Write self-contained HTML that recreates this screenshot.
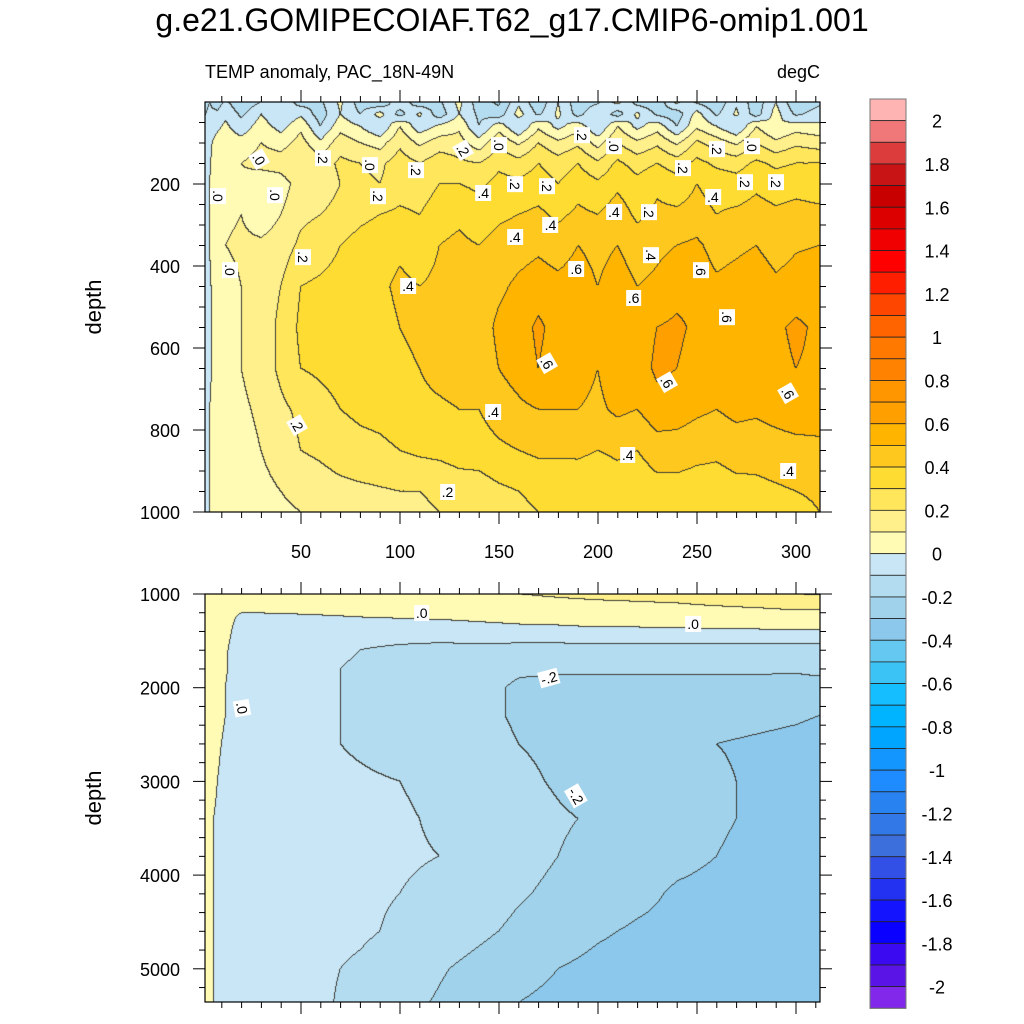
<!DOCTYPE html>
<html><head><meta charset="utf-8">
<style>
html,body{margin:0;padding:0;background:#fff;}
#root{position:relative;width:1024px;height:1024px;overflow:hidden;font-family:"Liberation Sans",Arial,sans-serif;color:#000;}
canvas{position:absolute;}
.t{position:absolute;white-space:nowrap;}
.lab{position:absolute;background:#fff;font-size:14px;line-height:14px;padding:1px 2px;transform:translate(-50%,-50%);}
</style></head>
<body>
<div id="root">
<div class="t" style="left:0;width:1024px;text-align:center;top:2px;font-size:32px;">g.e21.GOMIPECOIAF.T62_g17.CMIP6-omip1.001</div>
<div class="t" style="left:205px;top:62px;font-size:18px;">TEMP anomaly, PAC_18N-49N</div>
<div class="t" style="right:204px;top:62px;font-size:18px;">degC</div>
<canvas id="cTop" width="615" height="410" style="left:205px;top:102px;"></canvas>
<canvas id="cBot" width="615" height="408" style="left:205px;top:594px;"></canvas>
<svg id="axes" width="1024" height="1024" style="position:absolute;left:0;top:0;"></svg>
</div>
<script>
// ---------- data ----------
const levels = [-2,-1.9,-1.8,-1.7,-1.6,-1.5,-1.4,-1.3,-1.2,-1.1,-1,-0.9,-0.8,-0.7,-0.6,-0.5,-0.4,-0.3,-0.2,-0.1,0,0.1,0.2,0.3,0.4,0.5,0.6,0.7,0.8,0.9,1,1.1,1.2,1.3,1.4,1.5,1.6,1.7,1.8,1.9,2];
const colors = ["#8228EB","#5A14E6","#3C0AF0","#0A00FF","#1414FF","#2332F0","#3250E6","#3C6EDC","#3278E6","#2882F0","#1E8CFF","#1496FF","#00A5FF","#00B4FF","#14BEFF","#3CC3F5","#64C8F0","#8CC8EB","#A0D2EB","#B4DCF0","#C8E6F5",
"#FFFAB4","#FFF08C","#FFE65A","#FFDC32","#FFC81E","#FFB400","#FFA000","#FF9600","#FF8200","#FF7800","#FF6400","#FF4600","#FF1E00","#FF0000","#F00000","#DC0000","#C80000","#C81414","#DC3C3C","#F07878","#FFB4B4"];
const cbLabels = ["2","1.8","1.6","1.4","1.2","1","0.8","0.6","0.4","0.2","0","-0.2","-0.4","-0.6","-0.8","-1","-1.2","-1.4","-1.6","-1.8","-2"];
const cbLabelValues = [2,1.8,1.6,1.4,1.2,1,0.8,0.6,0.4,0.2,0,-0.2,-0.4,-0.6,-0.8,-1,-1.2,-1.4,-1.6,-1.8,-2];

const topYears = [0,4,8,12,20,30,40,50,60,70,80,90,100,110,120,130,140,150,160,170,180,190,200,210,220,230,240,250,260,270,280,290,300,312];
const topDepths = [0,30,60,100,150,200,275,350,450,550,650,750,850,950,1000];
const topValues = [
[-.15,-.1,-.15,-.08,-.18,-.1,-.02,-.15,-.12,.02,-.15,-.2,-.02,-.18,-.12,.03,-.16,-.22,-.02,-.18,.0,-.16,-.12,.04,-.15,-.18,.03,-.12,-.18,-.02,-.16,.0,-.18,-.12],
[-.12,-.08,-.08,-.02,-.12,.0,-.1,-.02,-.15,.0,-.1,.04,-.14,.02,-.16,.0,-.12,-.16,.04,-.12,.02,-.14,.0,-.15,.02,-.12,-.16,.04,-.12,.02,-.15,.04,-.12,-.06],
[-.1,-.05,-.02,.02,-.06,.05,-.04,.08,-.1,.06,.0,-.1,.1,-.06,.02,.08,-.1,.06,-.1,.08,-.03,.06,-.1,.1,-.03,.06,-.1,.08,.0,-.1,.1,.0,.05,.03],
[-.06,-.02,.04,.05,.04,.1,.06,.14,.02,.16,.1,.06,.18,.08,.15,.14,.04,.18,.08,.2,.12,.18,.06,.2,.12,.18,.08,.22,.15,.08,.2,.12,.18,.15],
[-.06,-.01,.06,.08,.1,.14,.15,.2,.15,.22,.2,.18,.25,.2,.26,.22,.2,.28,.24,.3,.25,.3,.22,.32,.26,.3,.25,.33,.28,.26,.32,.28,.3,.3],
[-.06,0,.05,.03,.08,.02,.05,.15,.12,.2,.22,.2,.25,.24,.3,.3,.28,.33,.32,.35,.3,.36,.32,.38,.33,.38,.34,.4,.36,.34,.38,.35,.37,.36],
[-.06,0,.06,.08,.1,.04,.1,.18,.2,.25,.28,.3,.32,.3,.36,.38,.34,.38,.4,.42,.38,.42,.4,.45,.38,.42,.42,.44,.4,.42,.44,.42,.43,.42],
[-.06,0,.05,.1,.12,.12,.15,.22,.25,.3,.33,.35,.38,.35,.4,.42,.4,.44,.46,.48,.45,.5,.47,.5,.45,.48,.5,.52,.46,.48,.5,.46,.49,.5],
[-.05,-.01,.04,.06,.1,.15,.2,.3,.32,.34,.36,.38,.42,.4,.42,.45,.44,.48,.52,.55,.53,.55,.5,.55,.5,.52,.56,.57,.52,.54,.56,.52,.54,.55],
[-.05,-.01,.03,.05,.1,.15,.22,.32,.34,.36,.38,.36,.4,.42,.45,.48,.45,.52,.55,.62,.56,.55,.52,.58,.55,.6,.62,.58,.55,.58,.55,.58,.62,.58],
[-.05,-.01,.03,.05,.1,.15,.22,.3,.32,.34,.35,.35,.38,.4,.44,.46,.44,.5,.54,.6,.55,.54,.5,.56,.55,.62,.6,.56,.54,.58,.55,.57,.6,.58],
[-.04,0,.02,.04,.08,.12,.18,.22,.26,.3,.32,.33,.35,.37,.38,.4,.4,.45,.48,.5,.5,.5,.48,.52,.5,.56,.55,.52,.5,.53,.52,.55,.58,.58],
[-.03,0,.02,.03,.06,.1,.15,.2,.22,.25,.27,.28,.3,.32,.33,.35,.35,.38,.4,.42,.42,.42,.4,.42,.4,.45,.45,.43,.42,.44,.43,.44,.45,.46],
[-.03,0,.01,.02,.04,.07,.1,.13,.15,.17,.18,.19,.2,.2,.21,.24,.25,.28,.3,.32,.32,.33,.32,.34,.33,.36,.36,.35,.35,.37,.38,.39,.4,.41],
[-.03,0,.01,.02,.03,.06,.08,.1,.12,.13,.14,.16,.18,.19,.2,.22,.23,.26,.28,.3,.3,.31,.3,.32,.32,.34,.35,.34,.34,.35,.36,.38,.38,.4]
];

const botYears = [0,2,6,12,20,40,60,80,100,120,140,160,180,200,220,240,260,280,300,312];
const botDepths = [1000,1100,1250,1400,1600,1800,2000,2300,2600,3000,3400,3800,4200,4600,5000,5360];
const botValues = [
[-.05,.05,.05,.05,.05,.05,.05,.05,.06,.06,.08,.1,.12,.14,.15,.16,.18,.19,.2,.21],
[-.05,.05,.05,.04,.02,.03,.03,.03,.04,.04,.05,.06,.07,.08,.09,.1,.11,.12,.13,.13],
[-.05,.05,.05,.02,-.01,-.01,-.005,0,.005,.01,.02,.03,.04,.05,.05,.06,.06,.06,.07,.07],
[-.05,.04,.04,.02,-.03,-.04,-.05,-.05,-.05,-.05,-.04,-.03,-.03,-.02,-.02,-.02,-.01,-.01,-.01,-.01],
[-.05,.04,.04,.01,-.05,-.06,-.08,-.1,-.12,-.13,-.13,-.14,-.14,-.14,-.14,-.14,-.14,-.14,-.14,-.14],
[-.05,.04,.04,.01,-.06,-.07,-.09,-.11,-.13,-.15,-.17,-.19,-.19,-.19,-.19,-.19,-.19,-.19,-.19,-.18],
[-.05,.04,.03,0,-.06,-.07,-.09,-.11,-.13,-.15,-.18,-.21,-.22,-.22,-.22,-.22,-.22,-.22,-.23,-.23],
[-.05,.04,.03,0,-.06,-.07,-.09,-.11,-.13,-.15,-.18,-.21,-.23,-.24,-.25,-.26,-.27,-.28,-.29,-.3],
[-.06,.03,.02,-.01,-.06,-.07,-.09,-.11,-.13,-.15,-.17,-.2,-.22,-.24,-.26,-.28,-.3,-.31,-.32,-.33],
[-.07,.02,.01,-.02,-.06,-.07,-.08,-.09,-.1,-.12,-.15,-.18,-.21,-.24,-.26,-.28,-.29,-.31,-.33,-.34],
[-.07,.02,0,-.02,-.05,-.06,-.07,-.08,-.09,-.11,-.13,-.16,-.19,-.21,-.24,-.27,-.29,-.31,-.33,-.34],
[-.07,.02,0,-.02,-.05,-.06,-.07,-.08,-.09,-.1,-.13,-.17,-.2,-.23,-.26,-.28,-.3,-.32,-.33,-.34],
[-.07,.02,0,-.02,-.05,-.06,-.07,-.09,-.1,-.12,-.15,-.19,-.22,-.25,-.28,-.31,-.32,-.33,-.34,-.35],
[-.07,.02,0,-.03,-.05,-.06,-.08,-.09,-.11,-.14,-.18,-.22,-.26,-.29,-.31,-.32,-.33,-.34,-.35,-.36],
[-.07,.02,0,-.03,-.05,-.07,-.09,-.11,-.14,-.19,-.23,-.27,-.3,-.32,-.33,-.34,-.35,-.36,-.36,-.37],
[-.07,.02,0,-.03,-.05,-.07,-.09,-.12,-.17,-.21,-.25,-.3,-.32,-.33,-.34,-.35,-.36,-.36,-.37,-.37]
];

const xTickValues = [50,100,150,200,250,300];
const topDepthTicks = [200,400,600,800,1000];
const botDepthTicks = [1000,2000,3000,4000,5000];

const topLabelText = [".0",".2",".4",".6",".6",".6",".6",".6",".6",".6",".4",".4",".4",".2",".2",".2",".4",".2",".2",".4",".4",".4",".2",".4",".4",".2",".2",".2",".2",".0",".0",".2",".0",".2",".2",".0",".2",".0",".0",".0"];
const topLabelYear = [14,51,104,189,218,252,265,174,235,296,147,215,296,124,48,89,142,158,174,176,158,208,226,227,258,274,290,243,260,278,208,192,150,132,108,85,61,29,37,8];
const topLabelDepth = [410,379,449,408,478,410,524,636,682,709,755,862,900,951,789,230,221,199,206,301,330,269,269,374,231,194,194,160,114,107,107,80,104,117,165,153,136,138,228,230];
const topLabelRot = [90,90,0,0,0,90,90,60,60,60,0,0,0,0,60,90,0,90,90,0,0,0,90,90,0,90,90,90,90,90,90,90,90,60,90,90,90,60,90,90];
const botLabelText = [".0",".0","-.2","-.2",".0"];
const botLabelYear = [111,248,175,189,20];
const botLabelDepth = [1203,1320,1896,3155,2216];
const botLabelRot = [0,0,-15,60,80];

// ---------- scales ----------
const PX0 = 205, PX1 = 820;
const xOf = y => 202 + 1.98*y;
const yTop = d => 102 + d*0.41;
const yBot = d => 594 + (d-1000)*0.0937;
const yearAtPx = px => (px-202)/1.98;

function colorIndex(v){let i=0;while(i<levels.length && v>=levels[i])i++;return i;}
function hex(c){return [parseInt(c.slice(1,3),16),parseInt(c.slice(3,5),16),parseInt(c.slice(5,7),16)];}
const rgb = colors.map(hex);
function locate(arr,v){let i=0;while(i<arr.length-2 && v>arr[i+1])i++;let t=(v-arr[i])/(arr[i+1]-arr[i]);t=Math.max(0,Math.min(1,t));return [i,t];}
function sample(xs,ds,vals,yr,d){const [i,tx]=locate(xs,yr);const [j,ty]=locate(ds,d);
 const a=vals[j][i],b=vals[j][i+1],c=vals[j+1][i],e=vals[j+1][i+1];
 return (a*(1-tx)+b*tx)*(1-ty)+(c*(1-tx)+e*tx)*ty;}

function drawField(id,xs,ds,vals,depthAtRow){
 const cv=document.getElementById(id),ctx=cv.getContext('2d');const W=cv.width,H=cv.height;
 const idx=new Int16Array(W*H);
 for(let r=0;r<H;r++){const d=depthAtRow(r+0.5);for(let c=0;c<W;c++){idx[r*W+c]=colorIndex(sample(xs,ds,vals,yearAtPx(PX0+c+0.5),d));}}
 const im=ctx.createImageData(W,H);
 for(let r=0;r<H;r++)for(let c=0;c<W;c++){const k=r*W+c;let col=rgb[idx[k]];
  const edge=(c<W-1&&idx[k]!==idx[k+1])||(r<H-1&&idx[k]!==idx[k+W]);
  const p=k*4; if(edge){im.data[p]=60;im.data[p+1]=60;im.data[p+2]=55;}else{im.data[p]=col[0];im.data[p+1]=col[1];im.data[p+2]=col[2];} im.data[p+3]=255;}
 ctx.putImageData(im,0,0);
}
drawField('cTop',topYears,topDepths,topValues,r=>r/0.41);
drawField('cBot',botYears,botDepths,botValues,r=>1000+r/0.0937);

// ---------- axes ----------
const svg=document.getElementById('axes');const NS='http://www.w3.org/2000/svg';
function el(tag,attrs,parent){const e=document.createElementNS(NS,tag);for(const k in attrs)e.setAttribute(k,attrs[k]);(parent||svg).appendChild(e);return e;}
function line(x1,y1,x2,y2,name,w){const l=el('line',{x1,y1,x2,y2,stroke:'#000','stroke-width':w||1});
 
 return l;}
function text(x,y,s,name,anchor,size){const t=el('text',{x,y,'font-size':size||18,'text-anchor':anchor||'middle','font-family':'Liberation Sans, Arial, sans-serif'});t.textContent=s;
 
 return t;}

function frame(top,bot,name){const r=el('rect',{x:PX0,y:top,width:PX1-PX0,height:bot-top,fill:'none',stroke:'#000','stroke-width':1.2});
 
 }
frame(102,512,'upper-plot-frame');frame(594,1002,'lower-plot-frame');

for(let yr=10;yr<=310;yr+=10){const x=xOf(yr);const major=yr%50===0;const L=major?12:6;
 line(x,102,x,102-L,'x-tick-top');line(x,512,x,512+L,'x-tick-bottom');
 line(x,594,x,594-L,'x-tick-lower-top');line(x,1002,x,1002+L,'x-tick-lower-bottom');}
xTickValues.forEach(v=>text(xOf(v),558,String(v),'x-tick-label'));

for(let d=50;d<=1000;d+=50){const y=yTop(d);const major=d%200===0;const L=major?12:6;
 line(PX0,y,PX0-L,y,'y-tick-left');line(PX1,y,PX1+L,y,'y-tick-right');}
topDepthTicks.forEach(d=>text(180,yTop(d)+7,String(d),'y-tick-label','end'));
for(let d=1000;d<=5300;d+=200){const y=yBot(d);const major=d%1000===0;const L=major?12:6;
 line(PX0,y,PX0-L,y,'y-tick-left-lower');line(PX1,y,PX1+L,y,'y-tick-right-lower');}
botDepthTicks.forEach(d=>text(180,yBot(d)+7,String(d),'y-tick-label','end'));

const yt1=text(0,0,'depth','y-axis-title-upper','middle',22);yt1.setAttribute('transform','translate(101,307) rotate(-90)');
const yt2=text(0,0,'depth','y-axis-title-lower','middle',22);yt2.setAttribute('transform','translate(101,798) rotate(-90)');

const cbTop=99, cbH=21.65, cbX=870, cbW=36;
colors.slice().reverse().forEach((c,i)=>{const r=el('rect',{x:cbX,y:cbTop+i*cbH,width:cbW,height:cbH,fill:c,stroke:'#222','stroke-width':0.8});
 
 });
const cbOuter=el('rect',{x:cbX,y:cbTop,width:cbW,height:cbH*colors.length,fill:'none',stroke:'#777','stroke-width':1});


cbLabels.forEach((s,i)=>{const v=cbLabelValues[i];const y=cbTop+cbH*(1+(2-v)*10);text(937,y+7,s,'colorbar-label');});

const root=document.getElementById('root');
function addLab(s,x,y,rot,name){const d=document.createElement('div');d.className='lab';d.textContent=s;
 d.style.left=x+'px';d.style.top=y+'px';d.style.transform='translate(-50%,-50%) rotate('+rot+'deg)';
 
 root.appendChild(d);}
topLabelText.forEach((s,i)=>addLab(s,xOf(topLabelYear[i]),yTop(topLabelDepth[i]),topLabelRot[i],'contour-label-upper'));
botLabelText.forEach((s,i)=>addLab(s,xOf(botLabelYear[i]),yBot(botLabelDepth[i]),botLabelRot[i],'contour-label-lower'));
</script>
</body></html>
